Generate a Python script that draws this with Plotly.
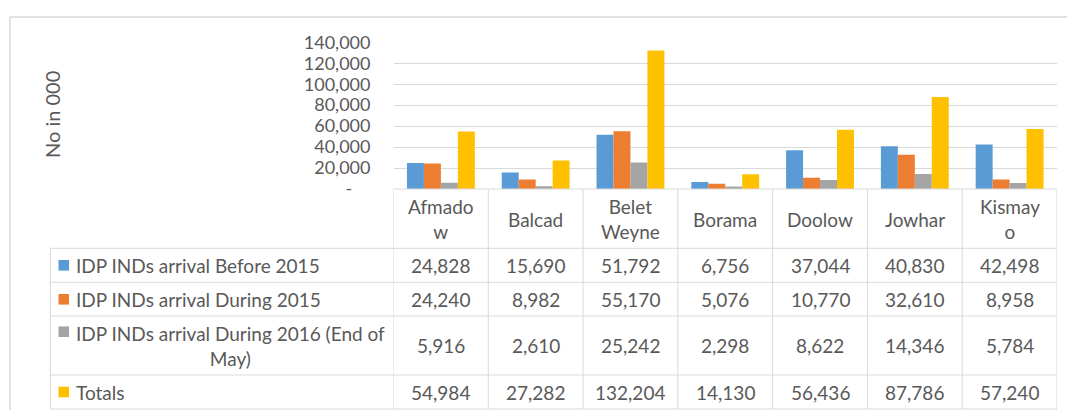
import plotly.graph_objects as go

W, H = 1067, 410

categories = ["Afmadow", "Balcad", "Belet Weyne", "Borama", "Doolow", "Jowhar", "Kismayo"]
header_labels = ["Afmado<br>w", "Balcad", "Belet<br>Weyne", "Borama", "Doolow", "Jowhar", "Kismay<br>o"]
series_names = [
    "IDP INDs arrival Before 2015",
    "IDP INDs arrival During 2015",
    "IDP INDs arrival During 2016 (End of<br>May)",
    "Totals",
]
before_2015 = [24828, 15690, 51792, 6756, 37044, 40830, 42498]
during_2015 = [24240, 8982, 55170, 5076, 10770, 32610, 8958]
during_2016 = [5916, 2610, 25242, 2298, 8622, 14346, 5784]
totals = [54984, 27282, 132204, 14130, 56436, 87786, 57240]
y_ticks = [0, 20000, 40000, 60000, 80000, 100000, 120000, 140000]

series_values = [before_2015, during_2015, during_2016, totals]
colors = ["#5B9BD5", "#ED7D31", "#A5A5A5", "#FFC000"]

FONT = "Lato"
TXT = "#595959"
LINE = "#d9d9d9"
FS = 19


def px(x):
    return x / W


def py(y):
    return 1 - y / H


x_idx = list(range(len(categories)))

fig = go.Figure()
for name, vals, col in zip(series_names, series_values, colors):
    fig.add_trace(go.Bar(x=x_idx, y=vals, name=name.replace("<br>", " "),
                         marker=dict(color=col, line=dict(width=0))))

plot_left, plot_right = 393.5, 1057
y_base, y_top = 189, 42.3

shapes = []
annotations = []

# outer chart border (cropped)
shapes.append(dict(type="line", xref="paper", yref="paper", x0=px(10), x1=px(1067), y0=py(17), y1=py(17),
                   line=dict(color=LINE, width=1.5)))
shapes.append(dict(type="line", xref="paper", yref="paper", x0=px(10), x1=px(10), y0=py(17), y1=py(410),
                   line=dict(color=LINE, width=1.5)))

# table lines
row_lines = [248.3, 282.3, 316, 375, 409]
shapes.append(dict(type="line", xref="paper", yref="paper", x0=px(plot_left), x1=px(plot_right),
                   y0=py(y_base), y1=py(y_base), line=dict(color=LINE, width=1)))
for yl in row_lines:
    shapes.append(dict(type="line", xref="paper", yref="paper", x0=px(50.3), x1=px(plot_right),
                       y0=py(yl), y1=py(yl), line=dict(color=LINE, width=1)))
shapes.append(dict(type="line", xref="paper", yref="paper", x0=px(50.3), x1=px(50.3),
                   y0=py(248.3), y1=py(409), line=dict(color=LINE, width=1)))
for k in range(len(categories) + 1):
    shapes.append(dict(type="line", xref="x", yref="paper", x0=k - 0.5, x1=k - 0.5,
                       y0=py(y_base), y1=py(409), line=dict(color=LINE, width=1)))

# header labels
for i, lab in enumerate(header_labels):
    annotations.append(dict(x=i, xref="x", y=py(219), yref="paper", text=lab, showarrow=False,
                            font=dict(family=FONT, size=FS, color=TXT), align="center",
                            xanchor="center", yanchor="middle"))

# rows
row_centers = [265.3, 299.3, 345.5, 392]
label_centers = [265.3, 299.3, 345.5, 392]
key_centers = [265.3, 299.3, 331.7, 392]
for r, (name, vals, col) in enumerate(zip(series_names, series_values, colors)):
    kc = key_centers[r]
    shapes.append(dict(type="rect", xref="paper", yref="paper", x0=px(58.5), x1=px(69),
                       y0=py(kc - 5.3), y1=py(kc + 5.3), line=dict(width=0), fillcolor=col))
    annotations.append(dict(x=px(74), xref="paper", y=py(label_centers[r]), yref="paper", text=name,
                            showarrow=False, font=dict(family=FONT, size=FS, color=TXT), align="center",
                            xanchor="left", yanchor="middle"))
    for i, v in enumerate(vals):
        annotations.append(dict(x=i, xref="x", y=py(row_centers[r]), yref="paper", text=f"{v:,}",
                                showarrow=False, font=dict(family=FONT, size=FS, color=TXT),
                                xanchor="center", yanchor="middle"))

# y-axis title
annotations.append(dict(x=px(52), xref="paper", y=py(115), yref="paper", text="No in 000", textangle=-90,
                        showarrow=False, font=dict(family=FONT, size=20, color=TXT),
                        xanchor="center", yanchor="middle"))

# accounting-style labels: zero shown as a dash with padding
tick_text = ["-" + "\u00a0" * 4 if t == 0 else f"{t:,}" for t in y_ticks]

fig.update_layout(
    width=W, height=H,
    margin=dict(l=0, r=0, t=0, b=0, autoexpand=False),
    paper_bgcolor="white", plot_bgcolor="white",
    showlegend=False,
    barmode="group", bargap=0.284, bargroupgap=0,
    font=dict(family=FONT, size=FS, color=TXT),
    xaxis=dict(domain=[px(plot_left), px(plot_right)], range=[-0.5, len(categories) - 0.5],
               showticklabels=False, showgrid=False, zeroline=False, showline=False, ticks="",
               anchor="y", automargin=False),
    yaxis=dict(domain=[py(y_base), py(y_top)], range=[0, 140000], tickvals=y_ticks, ticktext=tick_text,
               showgrid=True, gridcolor=LINE, gridwidth=1, zeroline=False, showline=False, ticks="",
               ticklabelstandoff=22, automargin=False, tickfont=dict(family=FONT, size=18, color=TXT)),
    shapes=shapes,
    annotations=annotations,
)

fig.write_html(
    "out.html",
    config={"displayModeBar": False},
    post_script="document.body.style.margin='0';document.body.style.overflow='hidden';",
)
